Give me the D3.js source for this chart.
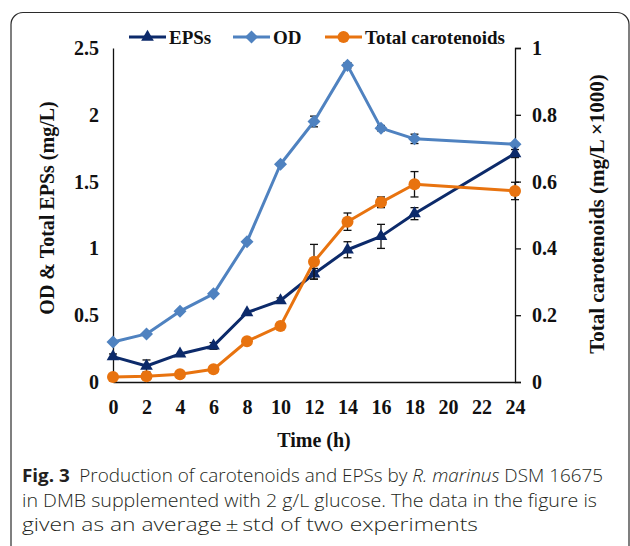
<!DOCTYPE html>
<html>
<head>
<meta charset="utf-8">
<script src="https://cdn.jsdelivr.net/npm/d3@7"></script>
<style>
  html, body { margin: 0; padding: 0; background: #fff; }
  svg text { font-family: "Liberation Serif", "Times New Roman", serif; }
  .cap { font-family: "Open Sans", "Noto Sans", sans-serif; fill: #231f20; }
</style>
</head>
<body>
<div id="vis"></div>
<script>
// time points (h)
var hours = [0, 2, 4, 6, 8, 10, 12, 14, 16, 18, 24];
var xTicks = [0, 2, 4, 6, 8, 10, 12, 14, 16, 18, 20, 22, 24];

// OD and EPSs on left axis (mg/L)
var odValues  = [0.30, 0.36, 0.53, 0.66, 1.05, 1.63, 1.95, 2.37, 1.90, 1.82, 1.78];
var odErr     = [0, 0, 0, 0, 0, 0, 0.04, 0.02, 0.02, 0.035, 0];
var epsValues = [0.19, 0.12, 0.21, 0.27, 0.52, 0.61, 0.81, 0.99, 1.09, 1.26, 1.71];
var epsErr    = [0.02, 0.045, 0, 0.025, 0, 0.02, 0.04, 0.06, 0.09, 0.045, 0.03];

// total carotenoids on right axis (mg/L x1000)
var carValues = [0.015, 0.017, 0.023, 0.038, 0.122, 0.168, 0.36, 0.48, 0.538, 0.592, 0.572];
var carErr    = [0, 0, 0, 0, 0.01, 0.01, 0.052, 0.026, 0.016, 0.038, 0.026];

var leftTicks = [0, 0.5, 1, 1.5, 2, 2.5];
var rightTicks = [0, 0.2, 0.4, 0.6, 0.8, 1];

var width = 630, height = 546;
var plot = { left: 113, right: 515, top: 48, bottom: 382 };

var svg = d3.select('#vis').append('svg')
  .attr('width', width)
  .attr('height', height);

// rounded frame
svg.append('rect')
  .attr('x', 11).attr('y', 12.5)
  .attr('width', 618).attr('height', 600)
  .attr('rx', 12).attr('ry', 12)
  .attr('fill', 'none')
  .attr('stroke', '#2b2b2b')
  .attr('stroke-width', 1.2);

var x = d3.scaleLinear().domain([0, 24]).range([plot.left, plot.right]);
var yL = d3.scaleLinear().domain([0, 2.5]).range([plot.bottom, plot.top]);
var yR = d3.scaleLinear().domain([0, 1]).range([plot.bottom, plot.top]);

// axes
var xAxis = svg.append('g')
  .attr('transform', 'translate(0,' + plot.bottom + ')')
  .call(d3.axisBottom(x).tickValues(xTicks).tickSize(0).tickPadding(18).tickFormat(d3.format('d')));
var leftAxis = svg.append('g')
  .attr('transform', 'translate(' + plot.left + ',0)')
  .call(d3.axisLeft(yL).tickValues(leftTicks).tickSize(0).tickPadding(14).tickFormat(function (d) { return String(d); }));
var rightAxis = svg.append('g')
  .attr('transform', 'translate(' + plot.right + ',0)')
  .call(d3.axisRight(yR).tickValues(rightTicks).tickSize(6).tickPadding(11).tickFormat(function (d) { return String(d); }));

[xAxis, leftAxis, rightAxis].forEach(function (g) {
  g.select('.domain').attr('stroke', '#111').attr('stroke-width', 1.3);
  g.selectAll('.tick line').attr('stroke', '#111').attr('stroke-width', 1.3);
  g.selectAll('text')
    .attr('fill', '#111')
    .style('font-family', '"Liberation Serif", serif')
    .style('font-weight', 'bold')
    .style('font-size', '20px');
});
xAxis.selectAll('text').attr('dy', '0.71em');

// axis titles
svg.append('text')
  .attr('transform', 'translate(54,208) rotate(-90)')
  .attr('text-anchor', 'middle')
  .style('font-weight', 'bold').style('font-size', '20px')
  .attr('fill', '#111')
  .text('OD & Total EPSs (mg/L)');

svg.append('text')
  .attr('transform', 'translate(604,214) rotate(-90)')
  .attr('text-anchor', 'middle')
  .style('font-weight', 'bold').style('font-size', '21px')
  .attr('fill', '#111')
  .text('Total carotenoids (mg/L \u00d71000)');

svg.append('text')
  .attr('x', 314).attr('y', 447)
  .attr('text-anchor', 'middle')
  .style('font-weight', 'bold').style('font-size', '20px')
  .attr('fill', '#111')
  .text('Time (h)');

var series = [
  { name: 'EPSs', values: epsValues, err: epsErr, y: yL, color: '#0c2a6a', shape: 'triangle' },
  { name: 'OD', values: odValues, err: odErr, y: yL, color: '#4f82c0', shape: 'diamond' },
  { name: 'Total carotenoids', values: carValues, err: carErr, y: yR, color: '#e8730f', shape: 'circle' }
];

function marker(sel, shape, color) {
  if (shape === 'circle') {
    sel.append('circle').attr('r', 6).attr('fill', color);
  } else if (shape === 'diamond') {
    sel.append('path')
      .attr('d', d3.symbol().type(d3.symbolSquare).size(85)())
      .attr('transform', 'rotate(45)')
      .attr('fill', color);
  } else {
    sel.append('path')
      .attr('d', d3.symbol().type(d3.symbolTriangle).size(70)())
      .attr('fill', color);
  }
}

// draw OD first, then EPS, then carotenoids
[series[1], series[0], series[2]].forEach(function (s) {
  var pts = hours.map(function (h, i) { return { h: h, v: s.values[i], e: s.err[i] }; });
  var line = d3.line()
    .x(function (d) { return x(d.h); })
    .y(function (d) { return s.y(d.v); });

  // error bars
  var eb = svg.append('g').selectAll('g')
    .data(pts.filter(function (d) { return d.e > 0; }))
    .enter().append('g')
    .attr('stroke', '#111').attr('stroke-width', 1.3);
  eb.append('line')
    .attr('x1', function (d) { return x(d.h); })
    .attr('x2', function (d) { return x(d.h); })
    .attr('y1', function (d) { return s.y(d.v - d.e); })
    .attr('y2', function (d) { return s.y(d.v + d.e); });
  [-1, 1].forEach(function (sign) {
    eb.append('line')
      .attr('x1', function (d) { return x(d.h) - 4; })
      .attr('x2', function (d) { return x(d.h) + 4; })
      .attr('y1', function (d) { return s.y(d.v + sign * d.e); })
      .attr('y2', function (d) { return s.y(d.v + sign * d.e); });
  });

  svg.append('path')
    .datum(pts)
    .attr('fill', 'none')
    .attr('stroke', s.color)
    .attr('stroke-width', 3)
    .attr('stroke-linejoin', 'round')
    .attr('d', line);

  svg.append('g').selectAll('g')
    .data(pts)
    .enter().append('g')
    .attr('transform', function (d) { return 'translate(' + x(d.h) + ',' + s.y(d.v) + ')'; })
    .each(function () { marker(d3.select(this), s.shape, s.color); });
});

// legend
var legendX = [129, 233, 325];
var legend = svg.append('g').selectAll('g')
  .data(series)
  .enter().append('g')
  .attr('transform', function (d, i) { return 'translate(' + legendX[i] + ',37)'; });
legend.append('line')
  .attr('x1', 0).attr('x2', 37)
  .attr('stroke', function (d) { return d.color; })
  .attr('stroke-width', 3);
legend.append('g')
  .attr('transform', 'translate(18.5,0)')
  .each(function (d) { marker(d3.select(this), d.shape, d.color); });
legend.append('text')
  .attr('x', 40).attr('y', 6.5)
  .style('font-weight', 'bold').style('font-size', '19px')
  .attr('fill', '#111')
  .text(function (d) { return d.name; });

// caption
var captionLines = [
  [['Fig. 3', 'bold'], ['\u2002Production of carotenoids and EPSs by ', ''], ['R. marinus', 'italic'], [' DSM 16675', '']],
  [['in DMB supplemented with 2 g/L glucose. The data in the figure is', '']],
  [['given as an average\u2009\u00b1\u2009std of two experiments', '']]
];
var captionWidths = [581, 575, 456];
captionLines.forEach(function (parts, i) {
  var t = svg.append('text')
    .attr('class', 'cap')
    .attr('x', 22).attr('y', 482 + i * 24.5)
    .style('font-size', '18.5px')
    .style('font-weight', '300')
    .attr('textLength', captionWidths[i])
    .attr('lengthAdjust', 'spacingAndGlyphs');
  parts.forEach(function (p) {
    var ts = t.append('tspan').text(p[0]);
    if (p[1] === 'bold') ts.style('font-weight', 'bold');
    if (p[1] === 'italic') ts.style('font-style', 'italic');
  });
});
</script>
</body>
</html>
